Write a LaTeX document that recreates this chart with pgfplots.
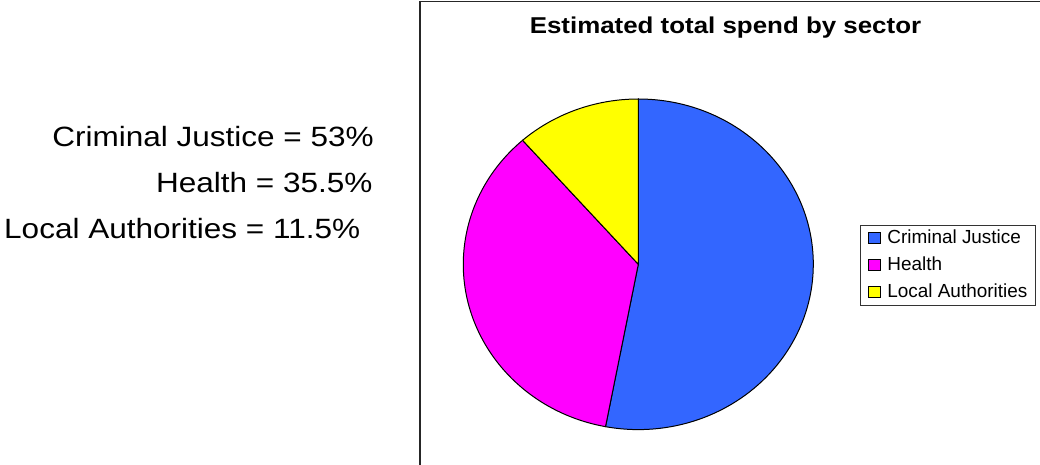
\documentclass[border=0pt]{standalone}
\usepackage{fontspec}
\setmainfont{Liberation Sans}
\usepackage{graphicx}
\usepackage{pgfplots}
\pgfplotsset{compat=1.18}
\usepackage{pgfplotstable}

\definecolor{cjblue}{RGB}{51,102,255}
\definecolor{hmag}{RGB}{255,0,255}
\definecolor{layel}{RGB}{255,255,0}

% Share of the estimated total spend, in percent
\pgfplotstableread{
sector share
CriminalJustice 53
Health 35.5
LocalAuthorities 11.5
}\sharetable
\pgfplotstablegetelem{0}{share}\of\sharetable \let\sCJ\pgfplotsretval
\pgfplotstablegetelem{1}{share}\of\sharetable \let\sH\pgfplotsretval
\pgfplotstablegetelem{2}{share}\of\sharetable \let\sLA\pgfplotsretval

% Slice boundaries: start at twelve o'clock, run clockwise
\pgfmathsetmacro\aA{90}
\pgfmathsetmacro\aB{\aA-3.6*\sCJ}
\pgfmathsetmacro\aC{\aB-3.6*\sH}
\pgfmathsetmacro\aD{\aC-3.6*\sLA}

\newcommand\sidefont{\fontsize{28}{34}\selectfont}

\begin{document}
\begin{tikzpicture}
\clip (0bp,0bp) rectangle (1040bp,465bp);
\fill[white] (0bp,0bp) rectangle (1040bp,465bp);
\begin{scope}[x=1bp,y=1bp]
% chart area frame
\draw[line width=1.5bp, black!85] (420,-10) -- (420,463.5) -- (1060,463.5);

% summary text
\node[anchor=base east, inner sep=0pt] at (374,319) {\scalebox{1.13}[1]{\sidefont Criminal Justice = \sCJ\%}};
\node[anchor=base east, inner sep=0pt] at (372.7,272.7) {\scalebox{1.13}[1]{\sidefont Health = \sH\%}};
\node[anchor=base west, inner sep=0pt] at (4,226.7) {\scalebox{1.13}[1]{\sidefont Local Authorities = \sLA\%}};

% title
\node[anchor=base, inner sep=0pt] at (725.5,431.7) {\scalebox{1.13}[1]{\fontsize{23}{28}\selectfont\bfseries Estimated total spend by sector}};
\end{scope}

\begin{axis}[
  at={(638.3bp,200.7bp)}, anchor=center,
  width=350bp, height=330.6bp, scale only axis,
  xmin=-1, xmax=1, ymin=-1, ymax=1,
  hide axis, clip=false,
  legend image code/.code={%
    \draw[#1, line width=0.8bp] (0bp,-5.5bp) rectangle (11.5bp,5.5bp);
    \path (18bp,0bp);},
  legend style={
    at={(1.636,0.497)}, anchor=east,
    draw=black!80, line width=1.2bp, fill=white,
    font=\fontsize{19}{22}\selectfont,
    inner xsep=8bp, inner ysep=4bp,
    row sep=9bp,
    nodes={inner sep=0pt, text height=14bp, text depth=4bp},
    cells={anchor=west},
  },
]
\filldraw[fill=cjblue, draw=black, line width=1bp]
  (axis cs:0,0) -- (axis cs:{cos(\aA)},{sin(\aA)})
  arc[start angle=\aA, end angle=\aB, x radius=175bp, y radius=165.3bp] -- cycle;
\filldraw[fill=hmag, draw=black, line width=1bp]
  (axis cs:0,0) -- (axis cs:{cos(\aB)},{sin(\aB)})
  arc[start angle=\aB, end angle=\aC, x radius=175bp, y radius=165.3bp] -- cycle;
\filldraw[fill=layel, draw=black, line width=1bp]
  (axis cs:0,0) -- (axis cs:{cos(\aC)},{sin(\aC)})
  arc[start angle=\aC, end angle=\aD, x radius=175bp, y radius=165.3bp] -- cycle;

\addlegendimage{fill=cjblue, draw=black}
\addlegendentry{Criminal Justice}
\addlegendimage{fill=hmag, draw=black}
\addlegendentry{Health}
\addlegendimage{fill=layel, draw=black}
\addlegendentry{Local Authorities}
\end{axis}
\end{tikzpicture}
\end{document}
